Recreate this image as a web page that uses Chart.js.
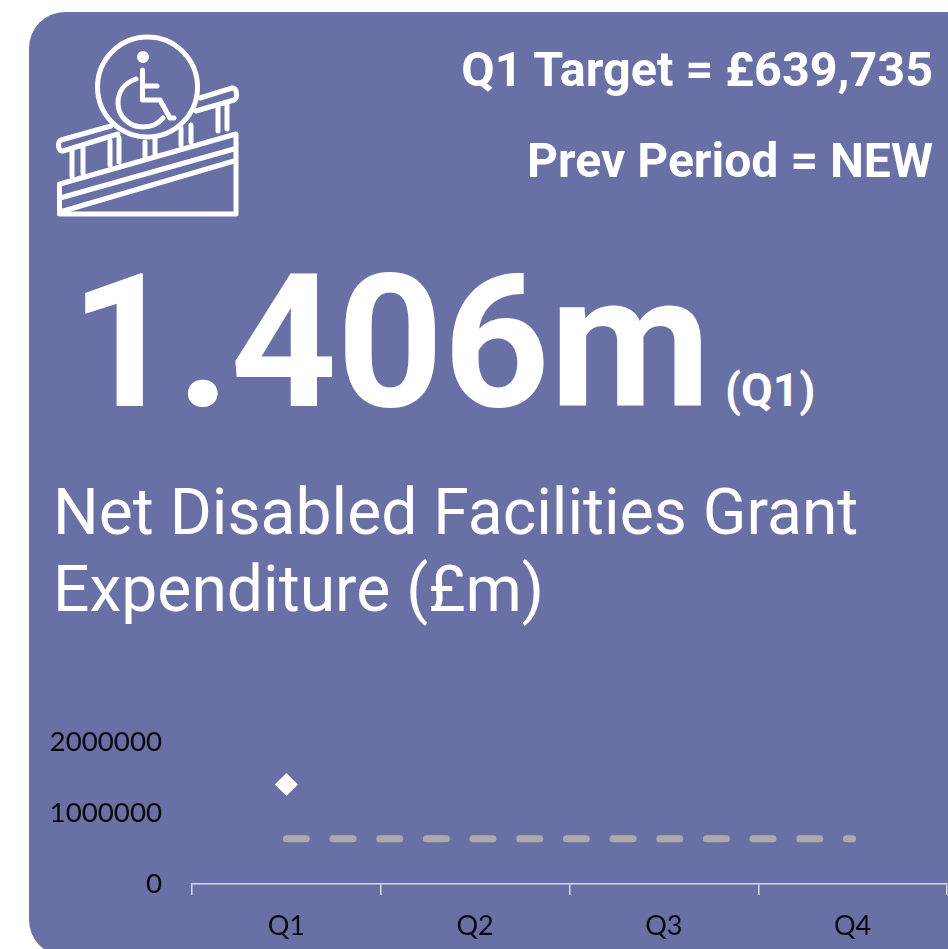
<!DOCTYPE html>
<html><head><meta charset="utf-8">
<script src="https://cdn.jsdelivr.net/npm/chart.js@4"></script>
<style>
html,body{margin:0;padding:0;background:#fff;width:948px;height:949px;overflow:hidden}
#card{position:absolute;left:29px;top:11.5px;width:960px;height:944px;background:#6870A6;border-radius:36px}
.t{position:absolute;color:#fff;font-family:Roboto,sans-serif;white-space:nowrap;line-height:1}
canvas{position:absolute;left:0;top:0}
svg{position:absolute;left:0;top:0}
</style></head><body>
<div id="card"></div>
<svg width="300" height="240" fill="none" stroke="#fff" stroke-width="5" stroke-linejoin="round" stroke-linecap="round">
<circle cx="147.5" cy="87" r="50"/>
<circle cx="143" cy="57" r="6" fill="#fff" stroke="none"/>
<path d="M142.5 70V100H160L170 118H174"/>
<path d="M142.5 86H157"/>
<path d="M136 79C124 83 118 92 118 103C118 116 129 127 143 127C152 127 159 123 163 118"/>
<path d="M111 126L61 140C57 142 58 152 63 151L118 134"/>
<path d="M200 98L232 88C237 87 238 98 234 100L196 111"/>
<path d="M72 151V176M83 148V173M110 141V165M119 138V162M145 142V157M155 139V154M181 128V145M191 125V142M218 108V131M227 105V129"/>
<path d="M60 184L236 134V214H59.5V184Z"/>
<path d="M60 198L234 149M60 212L234 161"/>
</svg>
<div class="t" id="a" style="right:15px;top:45.5px;font-size:48.5px;font-weight:700">Q1 Target = £639,735</div>
<div class="t" id="b" style="right:15px;top:136.5px;font-size:48.1px;font-weight:700">Prev Period = NEW</div>
<div class="t" id="c" style="left:70px;top:249px;font-size:186px;font-weight:700;letter-spacing:-0.2px">1.406m</div>
<div class="t" id="d" style="left:725px;top:367px;font-size:46px;font-weight:700">(Q1)</div>
<div class="t" id="e" style="left:53px;top:480px;font-size:64.2px;font-weight:400">Net Disabled Facilities Grant</div>
<div class="t" id="f" style="left:53px;top:557px;font-size:64.2px;font-weight:400">Expenditure (£m)</div>
<canvas id="chart" width="948" height="949"></canvas>
<script>
const categories = ["Q1","Q2","Q3","Q4"];
const actualValues = [1406000,null,null,null];
const targetValues = [639735,639735,639735,639735];
const yTicks = [0,1000000,2000000];
new Chart(document.getElementById('chart'),{
  type:'line',
  data:{labels:categories,datasets:[
    {label:'Target',data:targetValues,borderColor:'#ABABAB',borderWidth:7,borderDash:[20,26.67],borderCapStyle:'round',pointRadius:0,fill:false,tension:0},
    {label:'Actual',data:actualValues,showLine:false,pointStyle:'rectRot',pointRadius:11.5,pointBackgroundColor:'#fff',pointBorderWidth:0}
  ]},
  options:{
    responsive:false,animation:false,
    layout:{autoPadding:false,padding:{top:742.5,right:1,left:0,bottom:0}},
    plugins:{legend:{display:false},tooltip:{enabled:false},title:{display:false}},
    scales:{
      x:{offset:true,
        afterFit(s){s.height=65;},
        border:{display:true,color:'#D9D9D9',width:1.5},
        grid:{offset:true,drawOnChartArea:false,drawTicks:true,tickLength:11,color:'#D9D9D9',lineWidth:1.5},
        ticks:{color:'#0a0a0a',font:{family:'Lato',size:27},padding:15,maxRotation:0}},
      y:{min:0,max:2000000,
        afterFit(s){s.width=192;},
        afterBuildTicks(s){s.ticks=yTicks.map(v=>({value:v}));},
        border:{display:false},
        grid:{display:false,drawTicks:false},
        ticks:{color:'#0a0a0a',font:{family:'Lato',size:27.7},padding:30,callback:v=>String(v)}}
    }
  }
});
</script>
</body></html>
